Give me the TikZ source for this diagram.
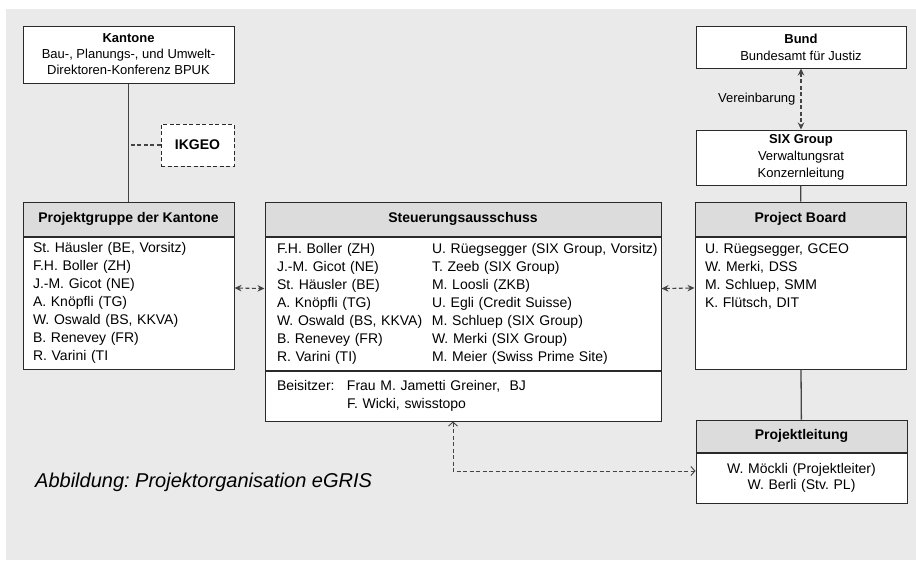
\documentclass[tikz,border=0pt]{standalone}
\usepackage{fontspec}
\setmainfont{Liberation Sans}
\usepackage{tikz}
\usetikzlibrary{positioning}
\usetikzlibrary{shapes.geometric, arrows, arrows.meta}
\definecolor{bggray}{HTML}{EAEAEA}
\definecolor{headgray}{HTML}{DCDCDC}
\definecolor{linegray}{HTML}{444444}
\definecolor{framegray}{HTML}{2A2A2A}
\frenchspacing
\tikzstyle{infobox} = [rectangle, minimum width=210pt, align=center, draw=framegray, line width=1pt, fill=white, inner sep=0pt, font=\fontsize{13}{17}\selectfont]
\tikzstyle{headbox} = [rectangle, minimum height=34pt, align=center, draw=framegray, line width=1pt, fill=headgray, inner sep=0pt, font=\fontsize{14}{18}\selectfont\bfseries]
\tikzstyle{listbox} = [rectangle, align=left, draw=framegray, line width=1pt, fill=white, inner xsep=10pt, inner ysep=0pt, font=\fontsize{14}{18}\selectfont]
\tikzstyle{plainline} = [linegray, line width=1.3pt]
\tikzstyle{dashline} = [linegray, line width=1.1pt, dash pattern=on 4pt off 2.5pt]
\tikzstyle{dasharrow} = [dashline, <->, >={Stealth[length=7pt, width=6.5pt]}]
\tikzstyle{openarrow} = [dashline, line width=0.9pt, <->, >={Straight Barb[length=4pt, width=9pt]}]

\begin{document}
\begin{tikzpicture}[x=1pt, y=-1pt]

\useasboundingbox (0,0) rectangle (916,560);
\fill [bggray] (6,9) rectangle (916,560);


% Kantone

	\node (kantone) [infobox, minimum width=211pt, minimum height=57pt, font=\fontsize{13}{16}\selectfont] at (128.5,54.5) {\textbf{Kantone}\\Bau-, Planungs-, und Umwelt-\\Direktoren-Konferenz BPUK};

	\node (ikgeo) [infobox, minimum width=73pt, minimum height=42pt, dash pattern=on 4pt off 2.5pt, font=\fontsize{14}{18}\selectfont\bfseries] at (197.5,145) {IKGEO};

	\node (pgHead) [headbox, minimum width=211pt] at (128.5,219) {Projektgruppe der Kantone};

	\node (pgBody) [listbox, below=0pt of pgHead, text width=191pt, minimum height=132pt] {St. Häusler (BE, Vorsitz)\\F.H. Boller (ZH)\\J.-M. Gicot (NE)\\A. Knöpfli (TG)\\W. Oswald (BS, KKVA)\\B. Renevey (FR)\\R. Varini (TI};


% Steuerungsausschuss

	\node (saHead) [headbox, minimum width=396pt] at (463,219) {Steuerungsausschuss};

	\node (saMembers) [listbox, below=0pt of saHead, inner xsep=12pt, text width=372pt, minimum height=133pt] {\begin{tabular}{@{}p{155pt}@{}l@{}}
	F.H. Boller (ZH) & U. Rüegsegger (SIX Group, Vorsitz)\\
	J.-M. Gicot (NE) & T. Zeeb (SIX Group)\\
	St. Häusler (BE) & M. Loosli (ZKB)\\
	A. Knöpfli (TG) & U. Egli (Credit Suisse)\\
	W. Oswald (BS, KKVA) & M. Schluep (SIX Group)\\
	B. Renevey (FR) & W. Merki (SIX Group)\\
	R. Varini (TI) & M. Meier (Swiss Prime Site)
	\end{tabular}};

	\node (saBeisitzer) [listbox, below=0pt of saMembers, inner xsep=12pt, text width=372pt, minimum height=50pt] {\begin{tabular}{@{}p{70pt}@{}l@{}}
	Beisitzer: & Frau M. Jametti Greiner, \ BJ\\
	 & F. Wicki, swisstopo
	\end{tabular}};


% Bund, SIX Group

	\node (bund) [infobox, minimum height=42pt] at (801,47) {\textbf{Bund}\\Bundesamt für Justiz};

	\node (six) [infobox, minimum height=55pt] at (801,157.5) {\textbf{SIX Group}\\Verwaltungsrat\\Konzernleitung};

	\node (pbHead) [headbox, minimum width=211pt] at (800.5,219) {Project Board};

	\node (pbBody) [listbox, below=0pt of pbHead, text width=191pt, minimum height=132pt] {U. Rüegsegger, GCEO\\W. Merki, DSS\\M. Schluep, SMM\\K. Flütsch, DIT\\~\\~\\~};


% Projektleitung

	\node (plHead) [headbox, minimum width=211pt, minimum height=32pt] at (801.5,436) {Projektleitung};

	\node (plBody) [listbox, below=0pt of plHead, align=center, text width=191pt, minimum height=50pt, font=\fontsize{14}{16.5}\selectfont] {W. Möckli (Projektleiter)\\W. Berli (Stv. PL)};


% Caption

	\node (caption) [anchor=west, inner sep=0pt, font=\fontsize{20}{24}\selectfont\itshape] at (35,482) {Abbildung: Projektorganisation eGRIS};


% Kantone connections
	\draw [plainline] (kantone) -- (pgHead);
	\draw [dashline] (ikgeo.west) -- (ikgeo.west -| kantone.south);

% Bund - SIX
	\draw [dasharrow] (bund) -- node [left=5pt, inner sep=0pt, text=black, font=\fontsize{13}{16}\selectfont] {Vereinbarung} (six);
	\draw [plainline] (six) -- (pbHead);

% Committees
	\draw [dasharrow] ([yshift=15pt]pgBody.east) -- ([yshift=15pt]saMembers.west);
	\draw [dasharrow] ([yshift=15pt]saMembers.east) -- ([yshift=15pt]pbBody.west);

% Projektleitung
	\draw [plainline] (pbBody) -- (plHead);
	\draw [openarrow] ([xshift=-10pt]saBeisitzer.south) |- ([yshift=7pt]plBody.west);

\end{tikzpicture}
\end{document}
